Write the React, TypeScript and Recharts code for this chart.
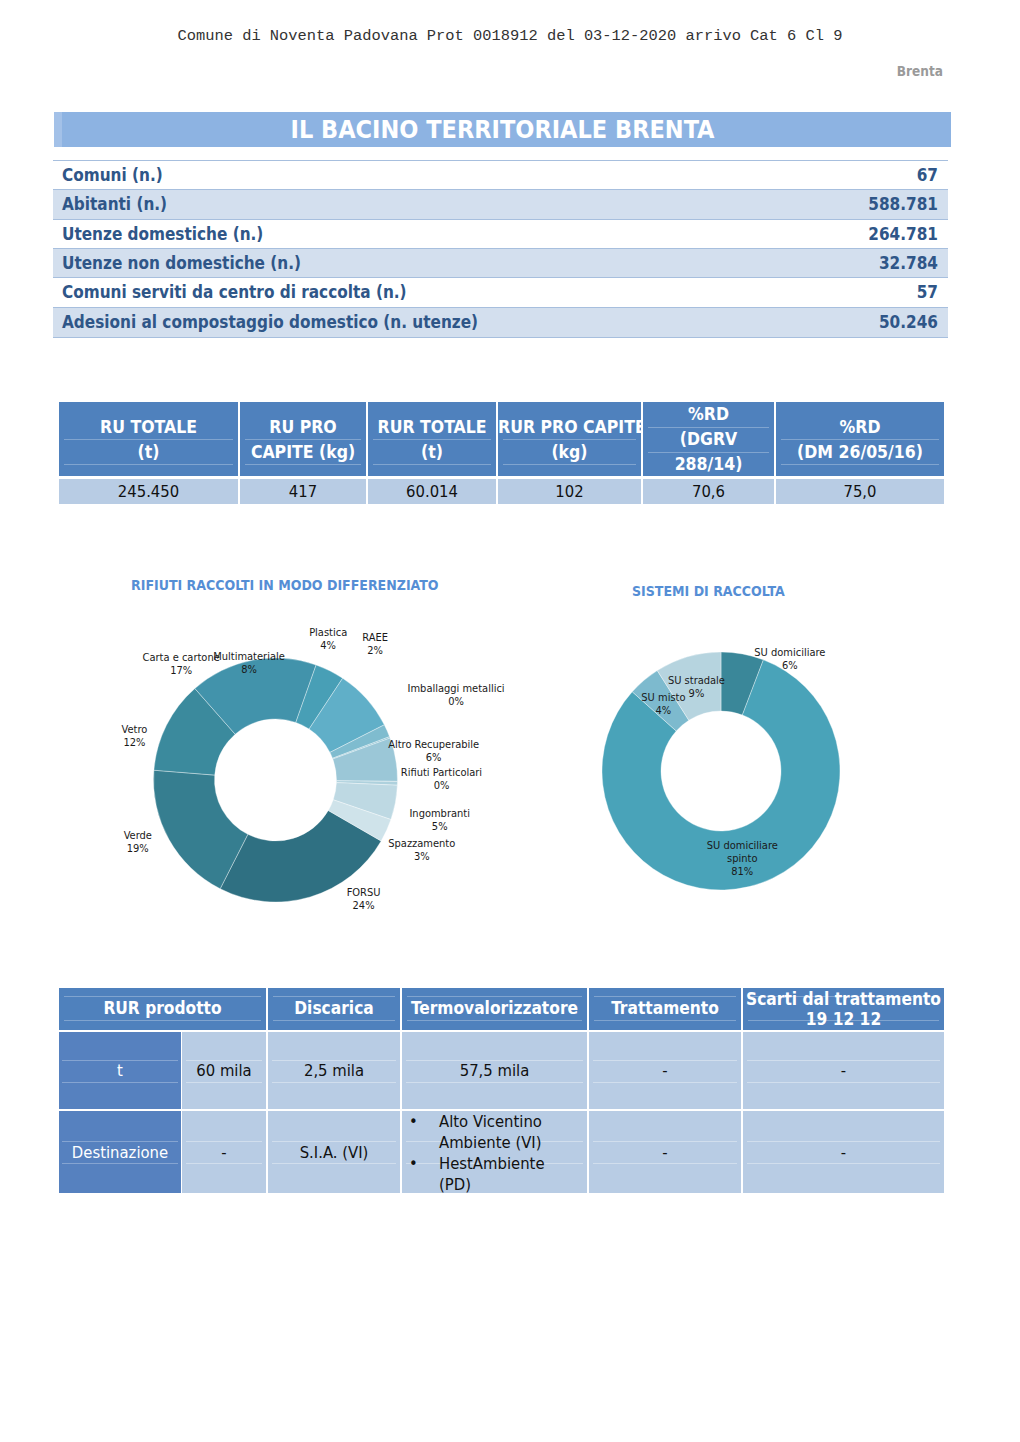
import { PieChart, Pie, Cell } from "recharts";

// --- data -------------------------------------------------------------
const bacinoLabels = [
  "Comuni (n.)",
  "Abitanti (n.)",
  "Utenze domestiche (n.)",
  "Utenze non domestiche (n.)",
  "Comuni serviti da centro di raccolta (n.)",
  "Adesioni al compostaggio domestico (n. utenze)",
];
const bacinoValues = ["67", "588.781", "264.781", "32.784", "57", "50.246"];

const ruHeaders = [
  ["RU TOTALE", "(t)"],
  ["RU PRO", "CAPITE (kg)"],
  ["RUR TOTALE", "(t)"],
  ["RUR PRO CAPITE", "(kg)"],
  ["%RD", "(DGRV", "288/14)"],
  ["%RD", "(DM 26/05/16)"],
];
const ruValues = ["245.450", "417", "60.014", "102", "70,6", "75,0"];

const rurHeaders = ["RUR prodotto", "Discarica", "Termovalorizzatore", "Trattamento", "Scarti dal trattamento\n19 12 12"];
const rurQuantities = ["60 mila", "2,5 mila", "57,5 mila", "-", "-"];
const rurDestinations = ["-", "S.I.A. (VI)", "", "-", "-"];
const termoDestinations = ["Alto Vicentino Ambiente (VI)", "HestAmbiente (PD)"];

const rdCategories = [
  "FORSU",
  "Verde",
  "Vetro",
  "Carta e cartone",
  "Plastica",
  "Multimateriale",
  "RAEE",
  "Imballaggi metallici",
  "Altro Recuperabile",
  "Rifiuti Particolari",
  "Ingombranti",
  "Spazzamento",
];
const rdShares = [24.3, 18.9, 12.3, 17.0, 3.9, 8.3, 1.7, 0.2, 5.8, 0.5, 4.6, 3.1];

const sistemiCategories = ["SU domiciliare", "SU domiciliare spinto", "SU misto", "SU stradale"];
const sistemiShares = [5.8, 80.8, 4.4, 9.0];

// --- styling ------------------------------------------------------------
const rdColors = [
  "#2f7082", "#367e90", "#3b8a9d", "#4293ab", "#489fb6", "#60afc8",
  "#7fbccf", "#8cc1d2", "#9bc7d7", "#aed1dd", "#bed9e3", "#cfe3ea",
];
const sistemiColors = ["#3a8799", "#49a3b9", "#7dbace", "#b6d4df"];

// label placement tweaks (angle shift in degrees, radius from centre)
const rdLabelPos: Record<string, { da: number; r: number; lines?: string[] }> = {
  FORSU: { da: 20, r: 148 },
  Verde: { da: -5, r: 151 },
  Vetro: { da: 9, r: 148 },
  "Carta e cartone": { da: 28, r: 150 },
  Plastica: { da: 6, r: 151 },
  Multimateriale: { da: 61, r: 120 },
  RAEE: { da: 30, r: 169 },
  "Imballaggi metallici": { da: 5, r: 200 },
  "Altro Recuperabile": { da: 1, r: 161 },
  "Rifiuti Particolari": { da: 2, r: 166 },
  Ingombranti: { da: -3, r: 169 },
  Spazzamento: { da: -1, r: 162 },
};
const sistemiLabelPos: Record<string, { da: number; r: number; lines?: string[] }> = {
  "SU domiciliare": { da: -21, r: 132 },
  "SU domiciliare spinto": { da: 0, r: 90, lines: ["SU domiciliare", "spinto"] },
  "SU misto": { da: 0, r: 89 },
  "SU stradale": { da: 0, r: 88 },
};

const DOC_FONT = '"DejaVu Sans Condensed", "DejaVu Sans", sans-serif';
const LABEL_FONT = '"DejaVu Sans Condensed", sans-serif';
const HEAD_BLUE = "#4f81bd";
const DATA_BLUE = "#b8cce4";
const RADIAN = Math.PI / 180;
const NO_MARGIN = { top: 0, right: 0, bottom: 0, left: 0 };

const makeLabel = (pos: Record<string, { da: number; r: number; lines?: string[] }>) => (props: any) => {
  const { cx, cy, midAngle, percent, name } = props;
  const p = pos[name] ?? { da: 0, r: 150 };
  const a = (midAngle + p.da) * RADIAN;
  const x = cx + p.r * Math.cos(a);
  const y = cy - p.r * Math.sin(a);
  const lines = [...(p.lines ?? [name]), `${Math.round(percent * 100)}%`];
  const lh = 13;
  const y0 = y - ((lines.length - 1) * lh) / 2;
  return (
    <text x={x} y={y0} textAnchor="middle" dominantBaseline="central" fill="#1a1a1a" fontSize={11} fontFamily={LABEL_FONT}>
      {lines.map((l, i) => (
        <tspan key={i} x={x} y={y0 + i * lh} dominantBaseline="central">
          {l}
        </tspan>
      ))}
    </text>
  );
};

const Box = ({ x, y, w, h, bg, children, style }: any) => (
  <div
    style={{
      position: "absolute",
      left: x,
      top: y,
      width: w,
      height: h,
      background: bg,
      display: "flex",
      alignItems: "center",
      justifyContent: "center",
      textAlign: "center",
      boxSizing: "border-box",
      ...style,
    }}
  >
    {children}
  </div>
);

const Faint = ({ x, y, w }: any) => (
  <div style={{ position: "absolute", left: x, top: y, width: w, height: 1, background: "rgba(255,255,255,0.28)" }} />
);

export default function App() {
  const rdData = rdCategories.map((name, i) => ({ name, value: rdShares[i] }));
  const sistemiData = sistemiCategories.map((name, i) => ({ name, value: sistemiShares[i] }));

  const ruCols = [59, 240, 368, 498, 643, 776, 946];
  const rurCols = [59, 268, 402, 589, 743, 946];

  return (
    <div
      style={{
        position: "absolute",
        left: 0,
        top: 0,
        width: 1020,
        height: 1442,
        background: "#ffffff",
        fontFamily: DOC_FONT,
        overflow: "hidden",
      }}
    >
      {/* protocol stamp */}
      <div
        style={{
          position: "absolute",
          left: 0,
          width: 1020,
          top: 27,
          textAlign: "center",
          fontFamily: '"Liberation Mono", monospace',
          fontSize: 15.4,
          color: "#333",
        }}
      >
        Comune di Noventa Padovana Prot 0018912 del 03-12-2020 arrivo Cat 6 Cl 9
      </div>
      <div style={{ position: "absolute", right: 77, top: 63, fontSize: 13.5, fontWeight: 700, color: "#9a9a9a" }}>Brenta</div>

      {/* title bar */}
      <Box x={54} y={112} w={897} h={35} bg="#8db3e2" style={{ color: "#fff", fontWeight: 700, fontSize: 25 }}>
        IL BACINO TERRITORIALE BRENTA
      </Box>
      <div style={{ position: "absolute", left: 54, top: 112, width: 8, height: 35, background: "#a3c1e8" }} />

      {/* bacino table */}
      {bacinoLabels.map((label, i) => (
        <div
          key={label}
          style={{
            position: "absolute",
            left: 53,
            top: 160 + i * 29.3,
            width: 895,
            height: i === 5 ? 31 : 29.3,
            background: i % 2 === 1 ? "#d3dfee" : "#ffffff",
            borderTop: "1px solid #a7bfde",
            borderBottom: i === 5 ? "1px solid #a7bfde" : undefined,
            boxSizing: "border-box",
            display: "flex",
            alignItems: "center",
            justifyContent: "space-between",
            padding: "0 10px 0 9px",
            color: "#2f5688",
            fontWeight: 700,
            fontSize: 17,
          }}
        >
          <span>{label}</span>
          <span>{bacinoValues[i]}</span>
        </div>
      ))}

      {/* RU table */}
      {ruHeaders.map((lines, i) => {
        const x = ruCols[i];
        const w = ruCols[i + 1] - x - 2;
        const lh = 25;
        const mid = 439;
        const y0 = mid - ((lines.length - 1) * lh) / 2;
        return (
          <div key={i}>
            <div style={{ position: "absolute", left: x, top: 402, width: w, height: 74, background: HEAD_BLUE }} />
            {lines.length === 2 ? (
              <>
                <Faint x={x + 5} y={439} w={w - 10} />
                <Faint x={x + 5} y={464} w={w - 10} />
              </>
            ) : (
              <>
                <Faint x={x + 5} y={427} w={w - 10} />
                <Faint x={x + 5} y={452} w={w - 10} />
              </>
            )}
            {lines.map((l, j) => (
              <div
                key={j}
                style={{
                  position: "absolute",
                  left: x,
                  width: w,
                  top: y0 + j * lh - 12,
                  height: 24,
                  lineHeight: "24px",
                  textAlign: "center",
                  color: "#fff",
                  fontWeight: 700,
                  fontSize: 17.5,
                  whiteSpace: "nowrap",
                  overflow: "hidden",
                }}
              >
                {l}
              </div>
            ))}
            <Box x={x} y={479} w={w} h={25} bg={DATA_BLUE} style={{ fontSize: 16.5, color: "#111" }}>
              {ruValues[i]}
            </Box>
          </div>
        );
      })}

      {/* chart titles */}
      <div style={{ position: "absolute", left: 131, top: 577, fontSize: 14, fontWeight: 700, color: "#558ed5" }}>
        RIFIUTI RACCOLTI IN MODO DIFFERENZIATO
      </div>
      <div style={{ position: "absolute", left: 632, top: 583, fontSize: 14, fontWeight: 700, color: "#558ed5" }}>
        SISTEMI DI RACCOLTA
      </div>

      {/* donut 1 */}
      <div style={{ position: "absolute", left: 100, top: 600, width: 460, height: 340 }}>
        <PieChart width={460} height={340} margin={NO_MARGIN}>
          <Pie
            data={rdData}
            dataKey="value"
            nameKey="name"
            cx={175.5}
            cy={180}
            innerRadius={61}
            outerRadius={122}
            startAngle={-30}
            endAngle={-390}
            stroke="#ffffff"
            strokeWidth={0.6}
            strokeOpacity={0.6}
            label={makeLabel(rdLabelPos)}
            labelLine={false}
            isAnimationActive={false}
          >
            {rdData.map((d, i) => (
              <Cell key={d.name} fill={rdColors[i]} />
            ))}
          </Pie>
        </PieChart>
      </div>

      {/* donut 2 */}
      <div style={{ position: "absolute", left: 580, top: 600, width: 300, height: 320 }}>
        <PieChart width={300} height={320} margin={NO_MARGIN}>
          <Pie
            data={sistemiData}
            dataKey="value"
            nameKey="name"
            cx={141}
            cy={171}
            innerRadius={60}
            outerRadius={119}
            startAngle={90}
            endAngle={-270}
            stroke="#ffffff"
            strokeWidth={0.6}
            strokeOpacity={0.6}
            label={makeLabel(sistemiLabelPos)}
            labelLine={false}
            isAnimationActive={false}
          >
            {sistemiData.map((d, i) => (
              <Cell key={d.name} fill={sistemiColors[i]} />
            ))}
          </Pie>
        </PieChart>
      </div>

      {/* RUR table */}
      {rurHeaders.map((h, i) => {
        const x = rurCols[i];
        const w = rurCols[i + 1] - x - 2;
        const lines = h.split("\n");
        return (
          <div key={h}>
            <div style={{ position: "absolute", left: x, top: 988, width: w, height: 42, background: HEAD_BLUE }} />
            <Faint x={x + 5} y={996} w={w - 10} />
            <Faint x={x + 5} y={1020} w={w - 10} />
            <div
              style={{
                position: "absolute",
                left: x,
                width: w,
                top: lines.length > 1 ? 989 : 998,
                textAlign: "center",
                color: "#fff",
                fontWeight: 700,
                fontSize: 17.2,
                lineHeight: "20px",
                whiteSpace: "nowrap",
              }}
            >
              {lines.map((l) => (
                <div key={l}>{l}</div>
              ))}
            </div>
          </div>
        );
      })}

      {/* RUR body */}
      {[
        { label: "t", top: 1032, h: 77, values: rurQuantities },
        { label: "Destinazione", top: 1111, h: 82, values: rurDestinations },
      ].map((row) => {
        const cols = [59, 182, 268, 402, 589, 743, 946];
        const mid = row.top + row.h / 2;
        return (
          <div key={row.label}>
            <Box x={59} y={row.top} w={122} h={row.h} bg="#5681bf" style={{ color: "#fff", fontSize: 16.5 }}>
              {row.label}
            </Box>
            <Faint x={62} y={mid - 11} w={116} />
            <Faint x={62} y={mid + 11} w={116} />
            {row.values.map((v, i) => {
              const x = cols[i + 1];
              const w = cols[i + 2] - x - 2;
              return (
                <div key={i}>
                  <Box x={x} y={row.top} w={w} h={row.h} bg={DATA_BLUE} style={{ fontSize: 16.5, color: "#111" }}>
                    {v}
                  </Box>
                  <div style={{ position: "absolute", left: x + 4, top: mid - 11, width: w - 8, height: 1, background: "rgba(255,255,255,0.35)" }} />
                  <div style={{ position: "absolute", left: x + 4, top: mid + 11, width: w - 8, height: 1, background: "rgba(255,255,255,0.35)" }} />
                  {row.label === "Destinazione" && i === 2 && (
                    <div style={{ position: "absolute", left: x + 4, top: row.top + 0, width: w - 8, fontSize: 16.5, color: "#111", lineHeight: "21px" }}>
                      {termoDestinations.map((d) => (
                        <div key={d} style={{ display: "flex" }}>
                          <span style={{ width: 33, paddingLeft: 3, boxSizing: "border-box" }}>•</span>
                          <span style={{ width: 128 }}>{d}</span>
                        </div>
                      ))}
                    </div>
                  )}
                </div>
              );
            })}
          </div>
        );
      })}
    </div>
  );
}
